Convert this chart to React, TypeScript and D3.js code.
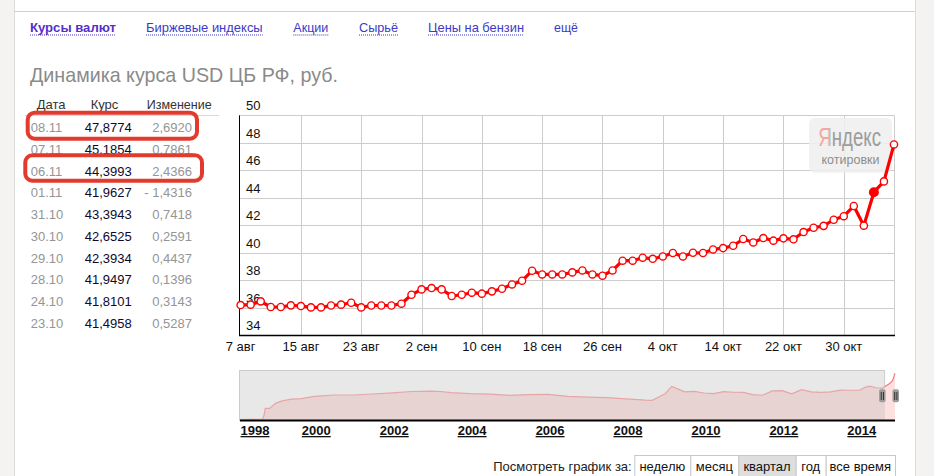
import * as d3 from 'd3';

// Main chart: one value per CBR quotation day, 7 Aug .. 8 Nov 2014
const rates = [
  36.18, 36.21, 36.45, 36.04, 36.04, 36.16, 36.11, 36.01, 36.01, 36.15,
  36.21, 36.35, 36.01, 36.15, 36.15, 36.15, 36.28, 36.93, 37.32, 37.42,
  37.32, 36.84, 36.93, 37.08, 37.01, 37.18, 37.37, 37.68, 37.95, 38.68,
  38.41, 38.41, 38.41, 38.56, 38.70, 38.41, 38.32, 38.70, 39.41, 39.41,
  39.63, 39.55, 39.72, 39.97, 39.72, 39.99, 39.97, 40.23, 40.33, 40.50,
  40.99, 40.74, 41.06, 40.87, 41.04, 40.97, 41.4958, 41.8101, 41.9497, 42.3934,
  42.6525, 43.3943, 41.9627, 44.3993, 45.1854, 47.8774,
];
const activeIndex = 63;
const xTickIndex = [0, 6, 12, 18, 24, 30, 36, 42, 48, 54, 60];
const xTickLabels = ['7 авг', '15 авг', '23 авг', '2 сен', '10 сен', '18 сен', '26 сен', '4 окт', '14 окт', '22 окт', '30 окт'];
const yTicks = [34, 36, 38, 40, 42, 44, 46, 48, 50];

// Table on the left
const tableDates = ['08.11', '07.11', '06.11', '01.11', '31.10', '30.10', '29.10', '28.10', '24.10', '23.10'];
const tableRates = ['47,8774', '45,1854', '44,3993', '41,9627', '43,3943', '42,6525', '42,3934', '41,9497', '41,8101', '41,4958'];
const tableChanges = ['2,6920', '0,7861', '2,4366', '- 1,4316', '0,7418', '0,2591', '0,4437', '0,1396', '0,3143', '0,5287'];

// Navigator (whole history), approximate monthly readings
const navDates = [
  '1998-01-16', '1998-05-01', '1998-08-15', '1998-08-28', '1998-09-10', '1998-09-25', '1998-10-20', '1998-12-15',
  '1999-02-15', '1999-05-15', '1999-08-15', '1999-12-15', '2000-06-15', '2000-12-15', '2001-06-15', '2001-12-15',
  '2002-06-15', '2002-12-15', '2003-03-15', '2003-06-15', '2003-12-15', '2004-06-15', '2004-12-15', '2005-06-15',
  '2005-12-15', '2006-06-15', '2006-12-15', '2007-06-15', '2007-12-15', '2008-06-15', '2008-08-15', '2008-10-15',
  '2008-12-15', '2009-02-15', '2009-04-15', '2009-06-15', '2009-09-15', '2009-12-15', '2010-03-15', '2010-06-15',
  '2010-09-15', '2010-12-15', '2011-03-15', '2011-06-15', '2011-09-15', '2011-12-15', '2012-03-15', '2012-06-15',
  '2012-09-15', '2012-12-15', '2013-03-15', '2013-06-15', '2013-09-15', '2013-12-15', '2014-01-31', '2014-03-15',
  '2014-05-15', '2014-07-15', '2014-08-07', '2014-09-15', '2014-10-15', '2014-11-08',
];
const navValues = [
  5.97, 6.15, 6.3, 9.3, 16.0, 16.0, 16.0, 20.6,
  22.8, 24.4, 24.9, 27.0, 28.2, 28.2, 29.1, 30.1,
  31.4, 31.8, 31.4, 30.4, 29.4, 29.0, 27.8, 28.6,
  28.8, 26.9, 26.3, 25.8, 24.6, 23.5, 23.4, 26.4,
  29.4, 36.0, 33.5, 31.0, 31.5, 30.0, 29.5, 31.2,
  30.7, 30.5, 28.5, 28.0, 31.9, 32.2, 29.3, 33.0,
  31.1, 30.5, 31.1, 32.7, 32.5, 32.7, 35.2, 36.2,
  34.8, 34.5, 36.0, 38.5, 41.0, 47.9,
];
const navYears = [1998, 2000, 2002, 2004, 2006, 2008, 2010, 2012, 2014];

const tabs = ['Курсы валют', 'Биржевые индексы', 'Акции', 'Сырьё', 'Цены на бензин', 'ещё'];
const tabX = [30, 146, 293.3, 359, 428, 554];
const tabWidth = [86, 116.7, 35, 39, 96, 24];
const periods = ['неделю', 'месяц', 'квартал', 'год', 'все время'];
const periodEdges = [634.3, 690.3, 738.3, 795.7, 825.7, 895];
const activePeriod = 2;

const FONT = '"Liberation Sans", Arial, sans-serif';

export default function App() {
  const W = 934;
  const H = 476;

  const plot = { left: 240, right: 894, top: 115.3, bottom: 335 };
  const x = d3.scaleLinear().domain([0, rates.length - 1]).range([240.6, plot.right]);
  const y = d3.scaleLinear().domain([34, 50]).range([plot.bottom, plot.top]);
  const line = d3.line<number>().x((_, i) => x(i)).y((d) => y(d));

  const navParse = d3.timeParse('%Y-%m-%d');
  const navPoints = navDates.map((d, i) => ({ date: navParse(d) as Date, value: navValues[i] }));
  const nav = { left: 240, right: 895, top: 370, bottom: 420 };
  const nx = d3.scaleTime()
    .domain([navPoints[0].date, navPoints[navPoints.length - 1].date])
    .range([nav.left, nav.right]);
  const ny = d3.scaleLinear().domain([5.5, 50]).range([nav.bottom, nav.top + 1]);
  const navArea = d3.area<{ date: Date; value: number }>()
    .x((d) => nx(d.date)).y0(nav.bottom).y1((d) => ny(d.value));
  const navLine = d3.line<{ date: Date; value: number }>()
    .x((d) => nx(d.date)).y((d) => ny(d.value));
  const windowStart = nx(navParse('2014-08-07') as Date);

  const rowY = (i: number) => 132 + i * 21.75;

  return (
    <div style={{ position: 'absolute', left: 0, top: 0 }}>
      <svg width={W} height={H} style={{ display: 'block', fontFamily: FONT }}>
        <defs>
          <clipPath id="navLeft">
            <rect x={nav.left} y={nav.top - 10} width={windowStart - nav.left} height={nav.bottom - nav.top + 10} />
          </clipPath>
          <clipPath id="navRight">
            <rect x={windowStart} y={nav.top - 10} width={nav.right - windowStart + 2} height={nav.bottom - nav.top + 10} />
          </clipPath>
          {/* "Я" light red, rest of the logo grey */}
          <linearGradient id="yaLogo" gradientUnits="userSpaceOnUse" x1={818.3} x2={881} y1={0} y2={0}>
            <stop offset="0.185" stopColor="#f4a6a0" />
            <stop offset="0.185" stopColor="#9c9c9c" />
          </linearGradient>
        </defs>
        <rect width={W} height={H} fill="#fff" />

        {/* page frame */}
        <rect x={0} y={0} width={14} height={H} fill="#f4f3f2" />
        <line x1={14.5} x2={14.5} y1={0} y2={H} stroke="#dcdcdc" />
        <rect x={915} y={0} width={W - 915} height={H} fill="#f4f3f2" />
        <line x1={915.5} x2={915.5} y1={0} y2={H} stroke="#dcdcdc" />
        <line x1={14} x2={915} y1={11.5} y2={11.5} stroke="#cfcfcf" />

        {/* tabs */}
        {tabs.map((t, i) => {
          const first = i === 0;
          const last = i === tabs.length - 1;
          const color = first ? '#5530c8' : '#3b3bc6';
          return (
            <g key={t}>
              <text
                x={tabX[i]}
                y={32.3}
                fontSize={13.4}
                fontWeight={first ? 'bold' : 'normal'}
                fill={color}
                textLength={tabWidth[i]}
                lengthAdjust="spacingAndGlyphs"
              >
                {t}
              </text>
              {!last && (
                <line x1={tabX[i]} x2={tabX[i] + tabWidth[i]} y1={35} y2={35} stroke={color} strokeDasharray="1 1" />
              )}
            </g>
          );
        })}

        {/* title */}
        <text x={30} y={81.7} fontSize={21} fill="#8a8a8a" textLength={308} lengthAdjust="spacingAndGlyphs">
          Динамика курса USD ЦБ РФ, руб.
        </text>

        {/* table */}
        <text x={36.7} y={109} fontSize={13} fill="#333">Дата</text>
        <text x={90.7} y={109} fontSize={13} fill="#333">Курс</text>
        <text x={146.7} y={109} fontSize={13} fill="#333" textLength={65} lengthAdjust="spacingAndGlyphs">Изменение</text>
        <line x1={25} x2={219} y1={115.5} y2={115.5} stroke="#dadada" />
        {tableDates.map((d, i) => (
          <g key={d} fontSize={13}>
            <text x={30.7} y={rowY(i)} fill="#959595">{d}</text>
            <text x={131.7} y={rowY(i)} fill="#10082a" textAnchor="end">{tableRates[i]}</text>
            <text x={192} y={rowY(i)} fill="#959595" textAnchor="end">{tableChanges[i]}</text>
          </g>
        ))}
        <rect x={27.7} y={112.7} width={169.3} height={26} rx={7} fill="none" stroke="#e23b2e" strokeWidth={4} />
        <rect x={25.3} y={155.3} width={176.7} height={25.4} rx={7} fill="none" stroke="#e23b2e" strokeWidth={4} />

        {/* main chart grid */}
        {yTicks.filter((v) => v > 34).map((v) => (
          <line key={v} x1={plot.left} x2={plot.right} y1={Math.round(y(v)) + 0.5} y2={Math.round(y(v)) + 0.5} stroke="#cccccc" />
        ))}
        {xTickIndex.slice(1).map((i) => (
          <line key={i} x1={Math.round(x(i)) + 0.5} x2={Math.round(x(i)) + 0.5} y1={plot.top} y2={plot.bottom} stroke="#cccccc" />
        ))}
        <line x1={plot.right + 0.5} x2={plot.right + 0.5} y1={plot.top} y2={plot.bottom} stroke="#cccccc" />

        {/* watermark */}
        <rect x={809} y={117.7} width={83} height={55} rx={6} fill="#eeeeee" fillOpacity={0.85} />
        <text x={818.3} y={146} fontSize={26} fill="url(#yaLogo)" textLength={62.7} lengthAdjust="spacingAndGlyphs">Яндекс</text>
        <text x={850.5} y={163.5} fontSize={12.5} fill="#8c8c8c" textAnchor="middle">котировки</text>

        {/* y labels */}
        {yTicks.map((v) => (
          <text key={v} x={246} y={y(v) - 5} fontSize={13} fill="#111">{v}</text>
        ))}

        {/* axes */}
        <line x1={239.5} x2={239.5} y1={plot.top} y2={plot.bottom + 1} stroke="#000" />
        <line x1={239} x2={plot.right + 1} y1={plot.bottom + 0.5} y2={plot.bottom + 0.5} stroke="#000" strokeWidth={1.5} />

        {/* x labels */}
        {xTickIndex.map((i, k) => (
          <text key={i} x={x(i)} y={351} fontSize={13} fill="#111" textAnchor="middle">{xTickLabels[k]}</text>
        ))}

        {/* series */}
        <path d={line(rates) || ''} fill="none" stroke="#ff0000" strokeWidth={3.2} strokeLinejoin="round" />
        {rates.map((v, i) =>
          i === activeIndex ? null : (
            <circle key={i} cx={x(i)} cy={y(v)} r={3.6} fill="#fff" stroke="#ff0000" strokeWidth={1.4} />
          )
        )}
        <circle cx={x(activeIndex)} cy={y(rates[activeIndex])} r={5} fill="#ff0000" />

        {/* navigator */}
        <rect x={nav.left - 0.5} y={nav.top + 0.5} width={windowStart - nav.left} height={nav.bottom - nav.top} fill="#e8e8e8" stroke="#cccccc" />
        <g clipPath="url(#navLeft)">
          <path d={navArea(navPoints) || ''} fill="#e8d3d3" />
          <path d={navLine(navPoints) || ''} fill="none" stroke="#e6a6a6" strokeWidth={1.2} />
        </g>
        <g clipPath="url(#navRight)">
          <path d={navArea(navPoints) || ''} fill="#fde0e0" />
          <path d={navLine(navPoints) || ''} fill="none" stroke="#f47c7c" strokeWidth={1.2} />
        </g>
        <line x1={nav.left} x2={nav.right} y1={nav.bottom + 0.5} y2={nav.bottom + 0.5} stroke="#000" strokeWidth={2} />
        {[windowStart - 3, nav.right + 0.5].map((hx, i) => (
          <g key={i}>
            <rect x={hx - 3} y={389.3} width={6.5} height={13} rx={2} fill="#9c9c9c" />
            <line x1={hx - 0.8} x2={hx - 0.8} y1={392} y2={400} stroke="#333" />
            <line x1={hx + 1.4} x2={hx + 1.4} y1={392} y2={400} stroke="#333" />
          </g>
        ))}
        {navYears.map((yr) => {
          const px = nx(new Date(yr, 0, 1));
          return (
            <text
              key={yr}
              x={Math.max(px, nav.left + 15)}
              y={435}
              fontSize={13}
              fontWeight="bold"
              fill="#111"
              textAnchor="middle"
              style={{ textDecoration: 'underline' }}
            >
              {yr}
            </text>
          );
        })}

        {/* period buttons */}
        <text x={631.7} y={471} fontSize={13} fill="#222" textAnchor="end">Посмотреть график за:</text>
        {periods.map((p, i) => {
          const x0 = periodEdges[i];
          const x1 = periodEdges[i + 1];
          return (
            <g key={p}>
              <rect
                x={x0 + 0.5}
                y={455.5}
                width={x1 - x0}
                height={30}
                fill={i === activePeriod ? '#dedede' : '#fff'}
                stroke="#c8c8c8"
              />
              <text x={(x0 + x1) / 2} y={471} fontSize={13} fill="#111" textAnchor="middle">{p}</text>
            </g>
          );
        })}
      </svg>
    </div>
  );
}
